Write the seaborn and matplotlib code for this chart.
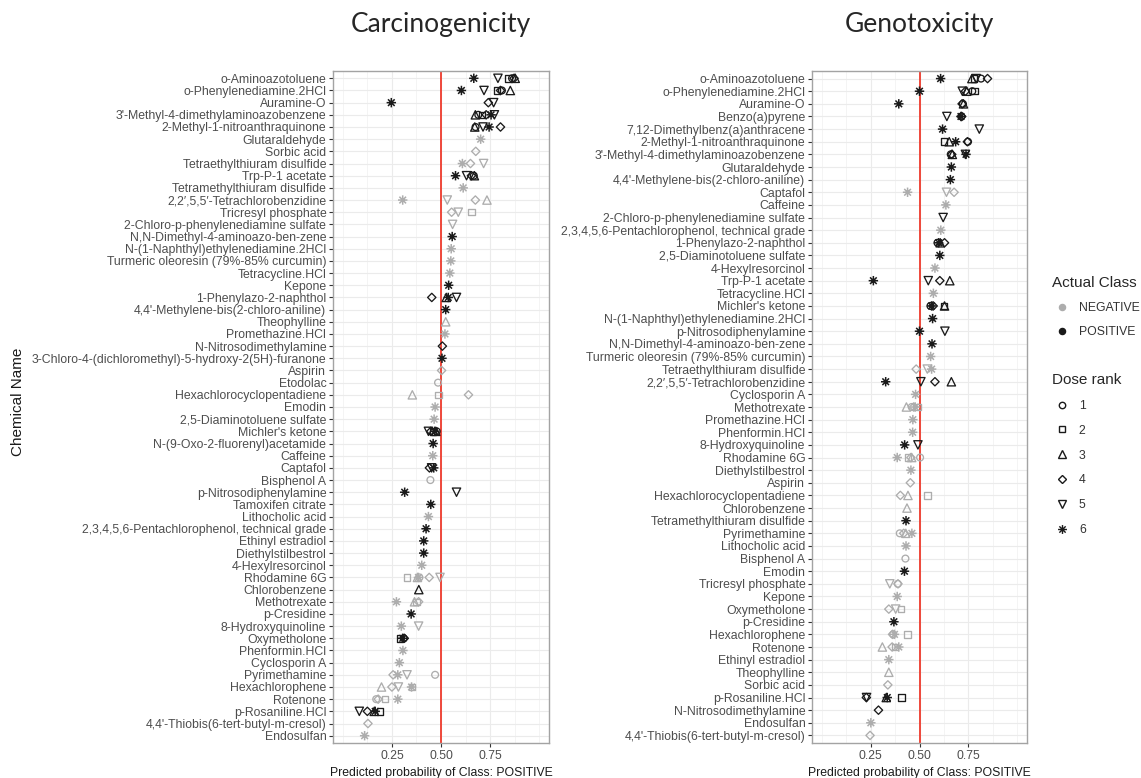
import numpy as np
import pandas as pd
import matplotlib
matplotlib.use("Agg")
import matplotlib.pyplot as plt
from matplotlib.path import Path
from matplotlib.lines import Line2D
import seaborn as sns

# ---- Carcinogenicity: chemicals (top to bottom), actual class, predictions by dose rank ----
carc_names = [
    "o-Aminoazotoluene", "o-Phenylenediamine.2HCl", "Auramine-O",
    "3'-Methyl-4-dimethylaminoazobenzene", "2-Methyl-1-nitroanthraquinone",
    "Glutaraldehyde", "Sorbic acid", "Tetraethylthiuram disulfide", "Trp-P-1 acetate",
    "Tetramethylthiuram disulfide", "2,2\u2032,5,5\u2032-Tetrachlorobenzidine", "Tricresyl phosphate",
    "2-Chloro-p-phenylenediamine sulfate", "N,N-Dimethyl-4-aminoazo-ben-zene",
    "N-(1-Naphthyl)ethylenediamine.2HCl", "Turmeric oleoresin (79%-85% curcumin)",
    "Tetracycline.HCl", "Kepone", "1-Phenylazo-2-naphthol",
    "4,4'-Methylene-bis(2-chloro-aniline)", "Theophylline", "Promethazine.HCl",
    "N-Nitrosodimethylamine", "3-Chloro-4-(dichloromethyl)-5-hydroxy-2(5H)-furanone",
    "Aspirin", "Etodolac", "Hexachlorocyclopentadiene", "Emodin",
    "2,5-Diaminotoluene sulfate", "Michler's ketone", "N-(9-Oxo-2-fluorenyl)acetamide",
    "Caffeine", "Captafol", "Bisphenol A", "p-Nitrosodiphenylamine", "Tamoxifen citrate",
    "Lithocholic acid", "2,3,4,5,6-Pentachlorophenol, technical grade", "Ethinyl estradiol",
    "Diethylstilbestrol", "4-Hexylresorcinol", "Rhodamine 6G", "Chlorobenzene",
    "Methotrexate", "p-Cresidine", "8-Hydroxyquinoline", "Oxymetholone", "Phenformin.HCl",
    "Cyclosporin A", "Pyrimethamine", "Hexachlorophene", "Rotenone", "p-Rosaniline.HCl",
    "4,4'-Thiobis(6-tert-butyl-m-cresol)", "Endosulfan",
]
carc_class = [
    "POSITIVE", "POSITIVE", "POSITIVE", "POSITIVE", "POSITIVE",
    "NEGATIVE", "NEGATIVE", "NEGATIVE", "POSITIVE", "NEGATIVE",
    "NEGATIVE", "NEGATIVE", "NEGATIVE", "POSITIVE", "NEGATIVE",
    "NEGATIVE", "NEGATIVE", "POSITIVE", "POSITIVE", "POSITIVE",
    "NEGATIVE", "NEGATIVE", "POSITIVE", "POSITIVE", "NEGATIVE",
    "NEGATIVE", "NEGATIVE", "NEGATIVE", "NEGATIVE", "POSITIVE",
    "POSITIVE", "NEGATIVE", "POSITIVE", "NEGATIVE", "POSITIVE",
    "POSITIVE", "NEGATIVE", "POSITIVE", "POSITIVE", "POSITIVE",
    "NEGATIVE", "NEGATIVE", "POSITIVE", "NEGATIVE", "POSITIVE",
    "NEGATIVE", "POSITIVE", "NEGATIVE", "NEGATIVE", "NEGATIVE",
    "NEGATIVE", "NEGATIVE", "POSITIVE", "NEGATIVE", "NEGATIVE",
]
carc_preds = [
    {6: 0.667, 5: 0.790, 2: 0.845, 1: 0.862, 4: 0.872, 3: 0.878},
    {6: 0.604, 5: 0.719, 2: 0.786, 4: 0.803, 1: 0.810, 3: 0.853},
    {6: 0.247, 4: 0.741, 5: 0.768},
    {3: 0.675, 1: 0.690, 2: 0.710, 4: 0.730, 6: 0.755, 5: 0.772},
    {3: 0.672, 1: 0.676, 5: 0.714, 6: 0.745, 4: 0.803},
    {6: 0.702},
    {4: 0.677},
    {6: 0.609, 4: 0.650, 5: 0.717},
    {6: 0.574, 5: 0.630, 4: 0.655, 1: 0.667, 3: 0.670},
    {6: 0.613},
    {6: 0.305, 5: 0.532, 4: 0.675, 3: 0.734},
    {4: 0.554, 5: 0.588, 2: 0.655},
    {5: 0.559},
    {6: 0.557},
    {6: 0.552},
    {6: 0.550},
    {6: 0.545},
    {6: 0.539},
    {4: 0.453, 3: 0.527, 6: 0.537, 5: 0.579},
    {6: 0.524},
    {3: 0.524},
    {6: 0.520},
    {4: 0.507},
    {6: 0.505},
    {4: 0.503},
    {1: 0.485},
    {3: 0.354, 2: 0.487, 4: 0.640},
    {6: 0.470},
    {6: 0.465},
    {5: 0.436, 4: 0.448, 2: 0.460, 6: 0.468, 3: 0.474, 1: 0.478},
    {6: 0.460},
    {6: 0.458},
    {4: 0.441, 5: 0.452, 6: 0.463},
    {1: 0.446},
    {6: 0.315, 5: 0.579},
    {6: 0.448},
    {6: 0.436},
    {6: 0.424},
    {6: 0.412},
    {6: 0.412},
    {6: 0.402},
    {2: 0.327, 3: 0.380, 6: 0.385, 1: 0.390, 4: 0.440, 5: 0.495},
    {3: 0.387},
    {6: 0.273, 3: 0.365, 2: 0.374, 4: 0.386},
    {6: 0.348},
    {6: 0.298, 5: 0.386},
    {2: 0.290, 6: 0.305, 1: 0.310, 4: 0.313},
    {6: 0.306},
    {6: 0.288},
    {4: 0.256, 6: 0.280, 5: 0.327, 1: 0.470},
    {3: 0.197, 4: 0.250, 5: 0.283, 6: 0.350, 2: 0.352},
    {1: 0.170, 4: 0.180, 2: 0.214, 6: 0.280},
    {5: 0.084, 4: 0.125, 3: 0.160, 6: 0.165, 2: 0.190},
    {4: 0.128},
    {6: 0.111},
]

# ---- Genotoxicity ----
geno_names = [
    "o-Aminoazotoluene", "o-Phenylenediamine.2HCl", "Auramine-O", "Benzo(a)pyrene",
    "7,12-Dimethylbenz(a)anthracene", "2-Methyl-1-nitroanthraquinone",
    "3'-Methyl-4-dimethylaminoazobenzene", "Glutaraldehyde",
    "4,4'-Methylene-bis(2-chloro-aniline)", "Captafol", "Caffeine",
    "2-Chloro-p-phenylenediamine sulfate", "2,3,4,5,6-Pentachlorophenol, technical grade",
    "1-Phenylazo-2-naphthol", "2,5-Diaminotoluene sulfate", "4-Hexylresorcinol",
    "Trp-P-1 acetate", "Tetracycline.HCl", "Michler's ketone",
    "N-(1-Naphthyl)ethylenediamine.2HCl", "p-Nitrosodiphenylamine",
    "N,N-Dimethyl-4-aminoazo-ben-zene", "Turmeric oleoresin (79%-85% curcumin)",
    "Tetraethylthiuram disulfide", "2,2\u2032,5,5\u2032-Tetrachlorobenzidine", "Cyclosporin A",
    "Methotrexate", "Promethazine.HCl", "Phenformin.HCl", "8-Hydroxyquinoline",
    "Rhodamine 6G", "Diethylstilbestrol", "Aspirin", "Hexachlorocyclopentadiene",
    "Chlorobenzene", "Tetramethylthiuram disulfide", "Pyrimethamine", "Lithocholic acid",
    "Bisphenol A", "Emodin", "Tricresyl phosphate", "Kepone", "Oxymetholone",
    "p-Cresidine", "Hexachlorophene", "Rotenone", "Ethinyl estradiol", "Theophylline",
    "Sorbic acid", "p-Rosaniline.HCl", "N-Nitrosodimethylamine", "Endosulfan",
    "4,4'-Thiobis(6-tert-butyl-m-cresol)",
]
geno_class = [
    "POSITIVE", "POSITIVE", "POSITIVE", "POSITIVE", "POSITIVE",
    "POSITIVE", "POSITIVE", "POSITIVE", "POSITIVE", "NEGATIVE",
    "NEGATIVE", "POSITIVE", "NEGATIVE", "POSITIVE", "POSITIVE",
    "NEGATIVE", "POSITIVE", "NEGATIVE", "POSITIVE", "POSITIVE",
    "POSITIVE", "POSITIVE", "NEGATIVE", "NEGATIVE", "POSITIVE",
    "NEGATIVE", "NEGATIVE", "NEGATIVE", "NEGATIVE", "POSITIVE",
    "NEGATIVE", "NEGATIVE", "NEGATIVE", "NEGATIVE", "NEGATIVE",
    "POSITIVE", "NEGATIVE", "NEGATIVE", "NEGATIVE", "POSITIVE",
    "NEGATIVE", "NEGATIVE", "NEGATIVE", "POSITIVE", "NEGATIVE",
    "NEGATIVE", "NEGATIVE", "NEGATIVE", "NEGATIVE", "POSITIVE",
    "POSITIVE", "NEGATIVE", "NEGATIVE",
]
geno_preds = [
    {6: 0.608, 3: 0.768, 2: 0.780, 5: 0.790, 1: 0.815, 4: 0.848},
    {6: 0.500, 5: 0.719, 4: 0.735, 3: 0.742, 1: 0.770, 2: 0.781},
    {6: 0.394, 4: 0.718, 1: 0.722, 3: 0.725},
    {5: 0.640, 6: 0.712, 1: 0.714, 4: 0.716},
    {6: 0.618, 5: 0.806},
    {2: 0.625, 3: 0.652, 6: 0.685, 4: 0.745, 1: 0.748},
    {1: 0.660, 4: 0.665, 3: 0.668, 5: 0.735, 6: 0.738},
    {6: 0.663},
    {6: 0.658},
    {6: 0.439, 5: 0.638, 4: 0.677},
    {6: 0.635},
    {5: 0.621},
    {6: 0.609},
    {1: 0.592, 6: 0.598, 3: 0.606, 4: 0.628},
    {6: 0.604},
    {6: 0.579},
    {6: 0.264, 5: 0.545, 4: 0.604, 3: 0.655},
    {6: 0.571},
    {1: 0.556, 6: 0.562, 4: 0.570, 2: 0.625, 3: 0.628},
    {6: 0.567},
    {6: 0.500, 5: 0.630},
    {6: 0.564},
    {6: 0.557},
    {4: 0.483, 5: 0.540, 6: 0.562},
    {6: 0.327, 5: 0.507, 4: 0.579, 3: 0.663},
    {6: 0.480},
    {3: 0.433, 1: 0.460, 4: 0.470, 6: 0.478, 2: 0.490},
    {6: 0.466},
    {6: 0.465},
    {6: 0.424, 5: 0.492},
    {6: 0.386, 2: 0.441, 4: 0.456, 3: 0.460, 1: 0.503},
    {6: 0.456},
    {4: 0.453},
    {4: 0.402, 3: 0.441, 2: 0.540},
    {3: 0.436},
    {6: 0.431},
    {1: 0.399, 4: 0.419, 3: 0.430, 6: 0.461},
    {6: 0.431},
    {1: 0.428},
    {6: 0.423},
    {5: 0.348, 1: 0.389, 4: 0.390},
    {6: 0.386},
    {4: 0.343, 5: 0.378, 2: 0.406},
    {6: 0.369},
    {4: 0.362, 1: 0.365, 6: 0.372, 2: 0.439},
    {3: 0.310, 4: 0.360, 2: 0.375, 6: 0.394},
    {6: 0.343},
    {3: 0.343},
    {4: 0.338},
    {4: 0.228, 5: 0.229, 3: 0.330, 6: 0.335, 2: 0.407},
    {4: 0.290},
    {6: 0.251},
    {4: 0.247},
]

class_levels = ["NEGATIVE", "POSITIVE"]
dose_levels = [1, 2, 3, 4, 5, 6]
x_breaks = [0.25, 0.50, 0.75]
threshold = 0.5

# ---- styling ----
sns.set_theme(style="white")
plt.rcParams["font.family"] = ["Liberation Sans", "DejaVu Sans"]

class_colors = {"NEGATIVE": "#ADADAD", "POSITIVE": "#1A1A1A"}

# eight-spoke asterisk (plus overlaid with a cross)
_d = np.sqrt(0.5)
asterisk = Path(
    [(-1, 0), (1, 0), (0, -1), (0, 1), (-_d, -_d), (_d, _d), (-_d, _d), (_d, -_d)],
    [Path.MOVETO, Path.LINETO] * 4,
)
dose_markers = {1: "o", 2: "s", 3: "^", 4: "D", 5: "v", 6: asterisk}
dose_sizes = {1: 24, 2: 22, 3: 36, 4: 18, 5: 36, 6: 46}
legend_sizes = {1: 4.6, 2: 4.4, 3: 5.6, 4: 4.0, 5: 5.6, 6: 6.4}


def long_table(names, classes, preds):
    rows = []
    for name, cls, p in zip(names, classes, preds):
        for dose, prob in p.items():
            rows.append({"name": name, "cls": cls, "dose": dose, "prob": prob})
    return pd.DataFrame(rows)


def draw_panel(ax, names, classes, preds, title):
    df = long_table(names, classes, preds)
    # seed the categorical y scale with the display order
    ax.yaxis.update_units(np.array(names))
    ax.axvline(threshold, color="#EE3A2C", lw=1.3, zorder=2)
    for dose in dose_levels:
        sub = df[df["dose"] == dose]
        if sub.empty:
            continue
        sns.scatterplot(
            data=sub, x="prob", y="name", hue="cls", hue_order=class_levels,
            palette=class_colors, marker=dose_markers[dose], s=dose_sizes[dose],
            legend=False, ax=ax, zorder=3,
        )
        pts = ax.collections[-1]
        pts.set_edgecolors(pts.get_facecolors())
        pts.set_facecolors("none")
        pts.set_linewidths(1.1 if dose == 6 else 0.95)

    n = len(names)
    ax.set_ylim(n - 1 + 0.6, -0.6)
    ax.set_xlim(-0.05, 1.05)
    ax.set_xticks(x_breaks)
    ax.set_xticklabels([f"{b:.2f}" for b in x_breaks])
    ax.set_xticks([0, 0.125, 0.375, 0.625, 0.875, 1.0], minor=True)
    ax.set_yticks(range(n))
    ax.set_yticklabels(names)
    ax.grid(True, which="major", color="#EBEBEB", lw=0.8, zorder=0)
    ax.grid(True, which="minor", axis="x", color="#F0F0F0", lw=0.5, zorder=0)
    ax.set_axisbelow(True)
    ax.tick_params(axis="both", which="major", length=2.8, width=0.8, color="#333333",
                   labelsize=8.8, labelcolor="#4D4D4D", pad=2, left=True, bottom=True)
    ax.tick_params(axis="both", which="minor", length=0)
    for sp in ax.spines.values():
        sp.set_color("#A3A3A3")
        sp.set_linewidth(1.0)
    ax.set_ylabel("")
    ax.set_xlabel("Predicted probability of Class: POSITIVE", fontsize=8.8,
                  color="#1A1A1A", labelpad=4)
    ax.set_title(title, fontsize=19, family=["Lato", "DejaVu Sans"], pad=28)


fig = plt.figure(figsize=(11.41, 7.78), dpi=100)
ax1 = fig.add_axes([333 / 1141, 35 / 778, 216 / 1141, 672 / 778])
ax2 = fig.add_axes([812 / 1141, 35 / 778, 215 / 1141, 672 / 778])

draw_panel(ax1, carc_names, carc_class, carc_preds, "Carcinogenicity")
draw_panel(ax2, geno_names, geno_class, geno_preds, "Genotoxicity")

fig.text(18 / 1141, 1 - 402 / 778, "Chemical Name", rotation=90, ha="center",
         va="center", fontsize=11, color="#1A1A1A")

# legends
class_handles = [Line2D([], [], ls="", marker="o", markersize=4.4,
                        markerfacecolor=class_colors[c], markeredgecolor=class_colors[c])
                 for c in class_levels]
leg1 = fig.legend(class_handles, class_levels, title="Actual Class",
                  loc="upper left", bbox_to_anchor=(1052 / 1141, 1 - 276 / 778),
                  frameon=False, fontsize=8.8, title_fontsize=11, borderpad=0,
                  borderaxespad=0, handlelength=1.6, handletextpad=0.6,
                  labelspacing=1.0, alignment="left")
for t in leg1.get_texts():
    t.set_color("#333333")

dose_handles = [Line2D([], [], ls="", marker=dose_markers[d], markersize=legend_sizes[d],
                       markerfacecolor="none", markeredgecolor="#1A1A1A",
                       markeredgewidth=1.0)
                for d in dose_levels]
leg2 = fig.legend(dose_handles, [str(d) for d in dose_levels], title="Dose rank",
                  loc="upper left", bbox_to_anchor=(1052 / 1141, 1 - 373 / 778),
                  frameon=False, fontsize=8.8, title_fontsize=11, borderpad=0,
                  borderaxespad=0, handlelength=1.6, handletextpad=0.6,
                  labelspacing=1.05, alignment="left")
for t in leg2.get_texts():
    t.set_color("#333333")

fig.savefig("out.png", dpi=100)
